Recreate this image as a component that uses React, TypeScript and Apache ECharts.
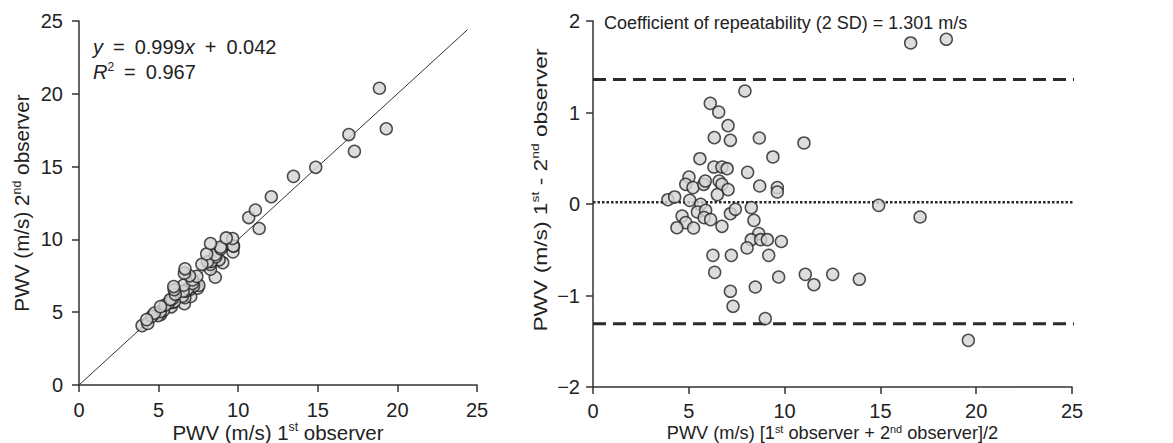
import React, { useEffect, useRef } from "react";
import * as echarts from "echarts";

// Left panel: 1st observer (x) vs 2nd observer (y), PWV m/s
const firstObserver = [
  17.3, 19.3, 8.56, 6.62, 7.02, 7.45, 6.65, 7.53, 9.03, 11.32, 9.67, 5.8, 6.5, 6.95, 7.2, 8.26, 5.13,
  4.96, 5.31, 5.89, 5.99, 6.71, 6.84, 7.13, 6.54, 8.8, 9.71, 9.69, 3.96, 4.32, 5.1, 5.62, 5.41, 5.85,
  5.73, 6.05, 4.58, 4.74, 4.25, 5.12, 6.58, 7.12, 7.4, 8.24, 8.31, 14.87, 16.95, 8.6, 8.07, 8.56, 8.91,
  9.65, 7.72, 5.98, 6.94, 8.89, 5.95, 9.25, 10.66, 12.08, 11.08, 13.47, 8.02, 6.62, 6.66, 8.26, 18.87,
];
const secondObserver = [
  16.05, 17.6, 7.4, 5.58, 6.08, 6.65, 6.0, 6.84, 8.4, 10.75, 9.14, 5.37, 6.1, 6.55, 6.8, 7.95, 4.85,
  4.76, 5.13, 5.67, 5.73, 6.45, 6.62, 6.97, 6.44, 8.6, 9.53, 9.55, 4.08, 4.23, 5.03, 5.62, 5.49, 5.91,
  5.87, 6.23, 4.72, 4.94, 4.49, 5.38, 6.86, 7.22, 7.46, 8.28, 8.49, 14.95, 17.2, 8.8, 8.46, 8.95, 9.35,
  10.06, 8.29, 6.54, 7.5, 9.47, 6.76, 10.1, 11.5, 12.93, 12.02, 14.33, 9.0, 7.68, 7.98, 9.72, 20.38,
];

// Right panel: mean of observers (x) vs difference (y)
const meanPWV = [
  16.58, 18.44, 7.93, 6.12, 6.56, 7.05, 6.33, 7.17, 8.68, 11.01, 9.39, 5.58, 6.31, 6.73, 7.0, 8.07, 5.01,
  4.84, 5.22, 5.78, 5.86, 6.58, 6.73, 7.05, 6.49, 8.7, 9.62, 9.62, 3.91, 4.26, 5.05, 5.62, 5.45, 5.88,
  5.8, 6.14, 4.65, 4.84, 4.38, 5.25, 6.73, 7.17, 7.43, 8.26, 8.4, 14.91, 17.07, 8.65, 8.26, 8.75, 9.1,
  9.83, 8.04, 6.26, 7.22, 9.17, 6.35, 9.69, 11.08, 12.51, 11.53, 13.9, 8.47, 7.17, 7.31, 8.99, 19.59,
];
const diffPWV = [
  1.76, 1.8, 1.235, 1.1, 1.005, 0.856, 0.725, 0.696, 0.721, 0.667, 0.514, 0.495, 0.404, 0.404, 0.386,
  0.346, 0.295, 0.215, 0.179, 0.215, 0.251, 0.251, 0.215, 0.157, 0.102, 0.197, 0.179, 0.131, 0.047,
  0.077, 0.04, -0.004, -0.087, -0.069, -0.149, -0.171, -0.131, -0.204, -0.259, -0.262, -0.244, -0.106,
  -0.058, -0.04, -0.179, -0.015, -0.142, -0.324, -0.39, -0.39, -0.39, -0.41, -0.48, -0.561, -0.561,
  -0.561, -0.747, -0.798, -0.769, -0.769, -0.882, -0.823, -0.907, -0.954, -1.118, -1.253, -1.49,
];

const identityLine = [0, 24.4];
const upperLimit = 1.36;
const lowerLimit = -1.31;
const meanDifference = 0.02;
const limitSpan = [0, 25.5];

const FONT = "'Liberation Sans', Arial, Helvetica, sans-serif";
const TEXT = "#222";
const AXIS = "#333";
const EN = "\u2002";

function supRich(size: number) {
  return {
    sup: { fontSize: size * 0.6, fontFamily: FONT, color: TEXT, padding: [0, 0, size * 0.5, 0] },
  };
}

function axisBase(labelSize: number, nameSize: number, margin: number) {
  return {
    type: "value" as const,
    axisLine: { show: true, onZero: false, lineStyle: { color: AXIS, width: 1.5 } },
    axisTick: { show: true, inside: false, length: 7, lineStyle: { color: AXIS, width: 1.5 } },
    splitLine: { show: false },
    axisLabel: { fontSize: labelSize, fontFamily: FONT, color: TEXT, margin },
    nameLocation: "middle" as const,
    nameMoveOverlap: false,
    nameTextStyle: { fontSize: nameSize, fontFamily: FONT, color: TEXT, rich: supRich(nameSize) },
  };
}

export default function App() {
  const ref = useRef<HTMLDivElement>(null);

  useEffect(() => {
    if (!ref.current) return;
    const chart = echarts.init(ref.current, undefined, { renderer: "svg" });

    const leftPts = firstObserver.map((v, i) => [v, secondObserver[i]]);
    const rightPts = meanPWV.map((v, i) => [v, diffPWV[i]]);

    const markerStyle = { color: "#d3d4d5", borderColor: "#222", borderWidth: 1.5 };

    chart.setOption({
      animation: false,
      grid: [
        { left: 79, top: 21, width: 398, height: 364, outerBoundsMode: "none", containLabel: false },
        { left: 593, top: 21, width: 479, height: 366, outerBoundsMode: "none", containLabel: false },
      ],
      xAxis: [
        {
          ...axisBase(20, 20.5, 15),
          gridIndex: 0,
          min: 0,
          max: 25,
          interval: 5,
          name: "PWV (m/s) 1{sup|st} observer",
          nameGap: 36,
        },
        {
          ...axisBase(20, 18.2, 14),
          gridIndex: 1,
          min: 0,
          max: 25,
          interval: 5,
          name: "PWV (m/s) [1{sup|st} observer + 2{sup|nd} observer]/2",
          nameGap: 36,
        },
      ],
      yAxis: [
        {
          ...axisBase(20, 20.7, 16),
          gridIndex: 0,
          min: 0,
          max: 25,
          interval: 5,
          name: "PWV (m/s) 2{sup|nd} observer",
          nameGap: 46,
        },
        {
          ...axisBase(20, 18, 13),
          gridIndex: 1,
          min: -2,
          max: 2,
          interval: 1,
          axisLabel: {
            fontSize: 20,
            fontFamily: FONT,
            color: TEXT,
            margin: 13,
            formatter: (v: number) => (v < 0 ? "\u2212" + Math.abs(v) : String(v)),
          },
        },
      ],
      series: [
        {
          type: "line",
          xAxisIndex: 0,
          yAxisIndex: 0,
          data: identityLine.map((v) => [v, v]),
          symbol: "none",
          lineStyle: { color: AXIS, width: 1 },
          z: 1,
        },
        {
          type: "scatter",
          xAxisIndex: 0,
          yAxisIndex: 0,
          data: leftPts,
          symbol: "circle",
          symbolSize: 12,
          itemStyle: markerStyle,
          z: 3,
        },
        {
          type: "line",
          xAxisIndex: 1,
          yAxisIndex: 1,
          data: limitSpan.map((v) => [v, upperLimit]),
          symbol: "none",
          clip: false,
          lineStyle: { color: "#2a2a2a", width: 3, type: [13, 7] },
          z: 1,
        },
        {
          type: "line",
          xAxisIndex: 1,
          yAxisIndex: 1,
          data: limitSpan.map((v) => [v, lowerLimit]),
          symbol: "none",
          clip: false,
          lineStyle: { color: "#2a2a2a", width: 3, type: [13, 7] },
          z: 1,
        },
        {
          type: "line",
          xAxisIndex: 1,
          yAxisIndex: 1,
          data: limitSpan.map((v) => [v, meanDifference]),
          symbol: "none",
          clip: false,
          lineStyle: { color: "#2a2a2a", width: 2.5, type: [2.5, 2] },
          z: 1,
        },
        {
          type: "scatter",
          xAxisIndex: 1,
          yAxisIndex: 1,
          data: rightPts,
          symbol: "circle",
          symbolSize: 12,
          itemStyle: markerStyle,
          z: 3,
        },
      ],
      graphic: [
        {
          type: "text",
          x: 93,
          y: 47,
          style: {
            text: `{i|y}${EN}=${EN}0.999{i|x}${EN}+${EN}0.042`,
            fontSize: 20,
            fontFamily: FONT,
            fill: TEXT,
            verticalAlign: "middle",
            rich: { i: { fontStyle: "italic", fontSize: 20, fontFamily: FONT, fill: TEXT } },
          },
        },
        {
          type: "text",
          x: 93,
          y: 72,
          style: {
            text: `{i|R}{s|2}${EN}=${EN}0.967`,
            fontSize: 20,
            fontFamily: FONT,
            fill: TEXT,
            verticalAlign: "middle",
            rich: {
              i: { fontStyle: "italic", fontSize: 20, fontFamily: FONT, fill: TEXT },
              s: { fontSize: 12, fontFamily: FONT, fill: TEXT, padding: [0, 0, 10, 0] },
            },
          },
        },
        {
          type: "text",
          x: 604,
          y: 23,
          style: {
            text: "Coefficient of repeatability (2 SD) = 1.301 m/s",
            fontSize: 18,
            fontFamily: FONT,
            fill: TEXT,
            verticalAlign: "middle",
          },
        },
        {
          type: "text",
          x: 540,
          y: 190,
          rotation: Math.PI / 2,
          scaleX: 1.2,
          style: {
            text: "PWV (m/s) 1{s|st} - 2{s|nd} observer",
            fontSize: 19,
            fontFamily: FONT,
            fill: TEXT,
            align: "center",
            verticalAlign: "middle",
            rich: {
              s: { fontSize: 11.5, fontFamily: FONT, fill: TEXT, padding: [0, 0, 10, 0] },
            },
          },
        },
      ],
    });

    return () => chart.dispose();
  }, []);

  return (
    <div
      ref={ref}
      style={{ position: "fixed", left: 0, top: 0, width: 1173, height: 443, background: "#fff" }}
    />
  );
}
